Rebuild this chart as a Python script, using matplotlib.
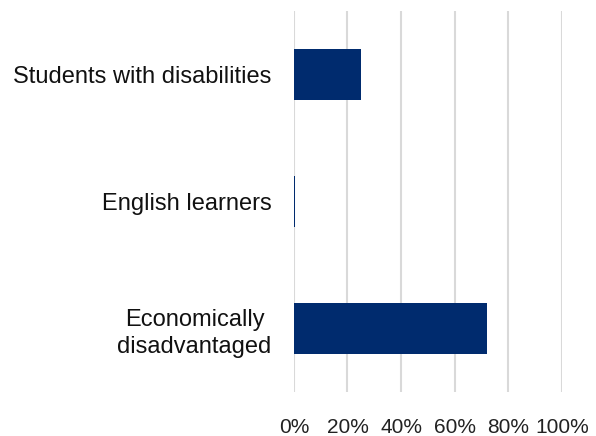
import numpy as np
import matplotlib.pyplot as plt

plt.rcParams['font.family'] = ['Liberation Sans', 'DejaVu Sans']

categories = ['Economically\ndisadvantaged', 'English learners', 'Students with disabilities']
values = [72, 0.6, 25]
xticks = [0, 20, 40, 60, 80, 100]

fig = plt.figure(figsize=(5.96, 4.36), dpi=100)
ax = fig.add_axes([0.493, 0.101, 0.45, 0.874])

y = np.arange(len(categories))
ax.barh(y, values, height=0.4, color='#002b6e', zorder=3)

ax.set_xlim(0, 100)
ax.set_ylim(-0.5, len(categories) - 0.5)
ax.set_xticks(xticks)
ax.set_xticklabels(['{}%'.format(t) for t in xticks], fontsize=15, color='#222222')
ax.set_yticks(y)
ax.set_yticklabels(categories, fontsize=17, color='#111111', multialignment='center',
                   linespacing=1.3)

ax.grid(axis='x', color='#d9d9d9', linewidth=1.5, zorder=0)
ax.tick_params(axis='x', length=0, pad=19)
ax.tick_params(axis='y', length=0, pad=16)
for s in ax.spines.values():
    s.set_visible(False)

fig.savefig('out.png', dpi=100)
